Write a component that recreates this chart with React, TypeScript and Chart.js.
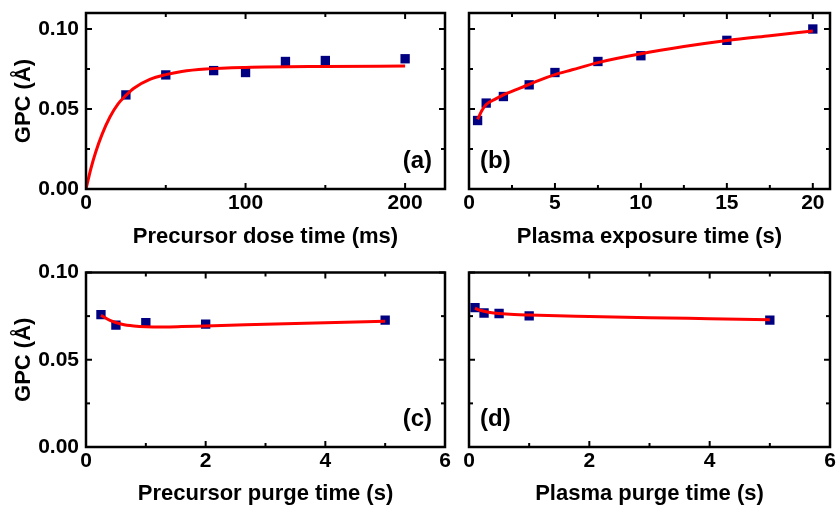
import React, { useEffect, useRef } from "react";
import { Chart, registerables } from "chart.js";

Chart.register(...registerables);

// ---------- data ----------
// (a) precursor dose time (ms)
const A_X = [25, 50, 80, 100, 125, 150, 200];
const A_Y = [0.0588, 0.0713, 0.074, 0.0728, 0.0797, 0.0803, 0.0814];
const A_FIT_X = [0, 3, 6, 10, 15, 20, 25, 30, 40, 50, 60, 75, 100, 150, 200];
const A_FIT_Y = [0, 0.0125, 0.0228, 0.034, 0.045, 0.053, 0.0585, 0.063, 0.0685, 0.0715, 0.0735, 0.075, 0.076, 0.0766, 0.0768];

// (b) plasma exposure time (s)
const B_X = [0.5, 1, 2, 3.5, 5, 7.5, 10, 15, 20];
const B_Y = [0.0428, 0.0537, 0.0578, 0.0651, 0.0728, 0.0797, 0.0833, 0.0929, 0.1];
const B_FIT_X = [0.5, 0.75, 1, 1.5, 2, 3, 4, 5, 6, 7.5, 10, 12.5, 15, 17.5, 20];
const B_FIT_Y = [0.0435, 0.049, 0.0528, 0.056, 0.0588, 0.0632, 0.0676, 0.0715, 0.0745, 0.079, 0.0845, 0.089, 0.0928, 0.0958, 0.0987];

// (c) precursor purge time (s)
const C_X = [0.25, 0.5, 1, 2, 5];
const C_Y = [0.0759, 0.0698, 0.0713, 0.0704, 0.0727];
const C_FIT_X = [0.25, 0.4, 0.6, 0.8, 1, 1.3, 1.6, 2, 3, 4, 5];
const C_FIT_Y = [0.0755, 0.0725, 0.0703, 0.0693, 0.0689, 0.0688, 0.069, 0.0694, 0.0703, 0.0712, 0.072];

// (d) plasma purge time (s)
const D_X = [0.1, 0.25, 0.5, 1, 5];
const D_Y = [0.0799, 0.0768, 0.0765, 0.0751, 0.0727];
const D_FIT_X = [0.1, 0.2, 0.35, 0.5, 0.75, 1, 2, 3, 4, 5];
const D_FIT_Y = [0.0795, 0.0782, 0.0771, 0.0765, 0.0759, 0.0756, 0.0748, 0.0741, 0.0735, 0.0729];

// ticks
const A_XTICKS = [0, 100, 200];
const A_XMINOR = [50, 150];
const B_XTICKS = [0, 5, 10, 15, 20];
const B_XMINOR = [2.5, 7.5, 12.5, 17.5];
const CD_XTICKS = [0, 2, 4, 6];
const CD_XMINOR = [1, 3, 5];
const Y_TICKS = [0, 0.05, 0.1];
const Y_MINOR = [0.025, 0.075];

const LABELS = ["(a)", "(b)", "(c)", "(d)"];
const X_TITLES = [
  "Precursor dose time (ms)",
  "Plasma exposure time (s)",
  "Precursor purge time (s)",
  "Plasma purge time (s)",
];
const Y_TITLE = "GPC (Å)";

// ---------- layout / style ----------
const W = 838;
const H = 510;
const FONT = "'Liberation Sans', Arial, Helvetica, sans-serif";

type PanelCfg = {
  fx: number[]; fy: number[]; px: number[]; py: number[];
  xmin: number; xmax: number; ymax: number;
  xticks: number[]; xminor: number[];
  left: number; right: number; top: number; bottom: number;
  showY: boolean; label: string; labelRight: boolean; xTitle: string;
};

const PANELS: PanelCfg[] = [
  { fx: A_FIT_X, fy: A_FIT_Y, px: A_X, py: A_Y, xmin: 0, xmax: 225, ymax: 0.11,
    xticks: A_XTICKS, xminor: A_XMINOR, left: 86, right: 445, top: 13, bottom: 189,
    showY: true, label: LABELS[0], labelRight: true, xTitle: X_TITLES[0] },
  { fx: B_FIT_X, fy: B_FIT_Y, px: B_X, py: B_Y, xmin: 0, xmax: 21, ymax: 0.11,
    xticks: B_XTICKS, xminor: B_XMINOR, left: 469, right: 830, top: 13, bottom: 189,
    showY: false, label: LABELS[1], labelRight: false, xTitle: X_TITLES[1] },
  { fx: C_FIT_X, fy: C_FIT_Y, px: C_X, py: C_Y, xmin: 0, xmax: 6, ymax: 0.1,
    xticks: CD_XTICKS, xminor: CD_XMINOR, left: 86, right: 445, top: 272.5, bottom: 447,
    showY: true, label: LABELS[2], labelRight: true, xTitle: X_TITLES[2] },
  { fx: D_FIT_X, fy: D_FIT_Y, px: D_X, py: D_Y, xmin: 0, xmax: 6, ymax: 0.1,
    xticks: CD_XTICKS, xminor: CD_XMINOR, left: 469, right: 830, top: 272.5, bottom: 447,
    showY: false, label: LABELS[3], labelRight: false, xTitle: X_TITLES[3] },
];

const framePlugin = {
  id: "frame",
  afterDatasetsDraw(chart: any, _args: any, opts: any) {
    const { ctx, chartArea } = chart;
    const { left, right, top, bottom } = chartArea;
    const xs = chart.scales.x;
    const ys = chart.scales.y;
    ctx.save();
    ctx.strokeStyle = "#000";
    ctx.lineWidth = 2;
    ctx.lineCap = "butt";
    const seg = (x1: number, y1: number, x2: number, y2: number) => {
      ctx.beginPath();
      ctx.moveTo(x1, y1);
      ctx.lineTo(x2, y2);
      ctx.stroke();
    };
    const drawX = (vals: number[], len: number) => {
      vals.forEach((v) => {
        const p = xs.getPixelForValue(v);
        seg(p, bottom, p, bottom - len);
        seg(p, top, p, top + len);
      });
    };
    const drawY = (vals: number[], len: number) => {
      vals.forEach((v) => {
        const p = ys.getPixelForValue(v);
        seg(left, p, left + len, p);
        seg(right, p, right - len, p);
      });
    };
    drawX(opts.xticks, 6);
    drawX(opts.xminor, 4);
    drawY(opts.yticks, 6);
    drawY(opts.yminor, 4);
    ctx.lineWidth = 2.5;
    ctx.strokeRect(left, top, right - left, bottom - top);

    ctx.fillStyle = "#000";
    ctx.font = `bold 24px ${FONT}`;
    ctx.textBaseline = "middle";
    if (opts.labelRight) {
      ctx.textAlign = "right";
      ctx.fillText(opts.label, right - 13, bottom - 28);
    } else {
      ctx.textAlign = "left";
      ctx.fillText(opts.label, left + 11, bottom - 28);
    }
    ctx.restore();
  },
};

function makeChart(canvas: HTMLCanvasElement, p: PanelCfg) {
  const titleHalf = 13.2;
  const xTitleCenter = p.bottom < 300 ? 237 : 494;
  const xAxisH = xTitleCenter - p.bottom + titleHalf;
  const yAxisW = p.showY ? 86 : 0;
  return new Chart(canvas, {
    type: "scatter",
    data: {
      datasets: [
        {
          data: p.fx.map((x, i) => ({ x, y: p.fy[i] })),
          showLine: true,
          borderColor: "#ff0000",
          borderWidth: 3,
          pointRadius: 0,
          cubicInterpolationMode: "monotone",
          fill: false,
          order: 0,
        },
        {
          data: p.px.map((x, i) => ({ x, y: p.py[i] })),
          showLine: false,
          pointStyle: "rect",
          pointRadius: 6.6,
          backgroundColor: "#000080",
          borderWidth: 0,
          order: 1,
        },
      ],
    } as any,
    options: {
      responsive: false,
      animation: false,
      events: [],
      layout: {
        padding: {
          left: p.showY ? p.left - yAxisW : p.left,
          right: W - p.right,
          top: p.top,
          bottom: H - p.bottom - xAxisH,
        },
      },
      plugins: {
        legend: { display: false },
        tooltip: { enabled: false },
        frame: {
          xticks: p.xticks,
          xminor: p.xminor,
          yticks: Y_TICKS,
          yminor: Y_MINOR,
          label: p.label,
          labelRight: p.labelRight,
        },
      } as any,
      scales: {
        x: {
          type: "linear",
          position: "bottom",
          min: p.xmin,
          max: p.xmax,
          grid: { display: false, drawTicks: false },
          border: { display: false },
          afterBuildTicks: (s: any) => {
            s.ticks = p.xticks.map((v) => ({ value: v }));
          },
          afterFit: (s: any) => {
            s.height = xAxisH;
            s.paddingLeft = 0;
            s.paddingRight = 0;
          },
          ticks: {
            padding: 2,
            color: "#000",
            font: { family: FONT, size: 21, weight: "bold" },
            maxRotation: 0,
            autoSkip: false,
            callback: (v: any) => String(v),
          },
          title: {
            display: true,
            text: p.xTitle,
            color: "#000",
            font: { family: FONT, size: 22, weight: "bold" },
            padding: { top: 0, bottom: 0 },
          },
        },
        y: {
          type: "linear",
          position: "left",
          min: 0,
          max: p.ymax,
          grid: { display: false, drawTicks: false },
          border: { display: false },
          afterBuildTicks: (s: any) => {
            s.ticks = Y_TICKS.map((v) => ({ value: v }));
          },
          afterFit: (s: any) => {
            s.width = yAxisW;
            s.paddingTop = 0;
            s.paddingBottom = 0;
          },
          ticks: {
            display: p.showY,
            padding: 7,
            color: "#000",
            font: { family: FONT, size: 21, weight: "bold" },
            autoSkip: false,
            callback: (v: any) => Number(v).toFixed(2),
          },
          title: {
            display: p.showY,
            text: Y_TITLE,
            color: "#000",
            font: { family: FONT, size: 22, weight: "bold" },
            padding: { top: 11, bottom: 0 },
          },
        },
      },
    } as any,
    plugins: [framePlugin as any],
  });
}

export default function App() {
  const refs = [
    useRef<HTMLCanvasElement>(null),
    useRef<HTMLCanvasElement>(null),
    useRef<HTMLCanvasElement>(null),
    useRef<HTMLCanvasElement>(null),
  ];
  useEffect(() => {
    const charts = PANELS.map((p, i) => makeChart(refs[i].current as HTMLCanvasElement, p));
    return () => charts.forEach((c) => c.destroy());
  }, []);
  return (
    <div
      style={{
        position: "absolute",
        left: 0,
        top: 0,
        width: W,
        height: H,
        background: "#fff",
        overflow: "hidden",
      }}
    >
      {PANELS.map((_, i) => (
        <canvas
          key={i}
          ref={refs[i]}
          width={W}
          height={H}
          style={{ position: "absolute", left: 0, top: 0, width: W, height: H }}
        />
      ))}
    </div>
  );
}
